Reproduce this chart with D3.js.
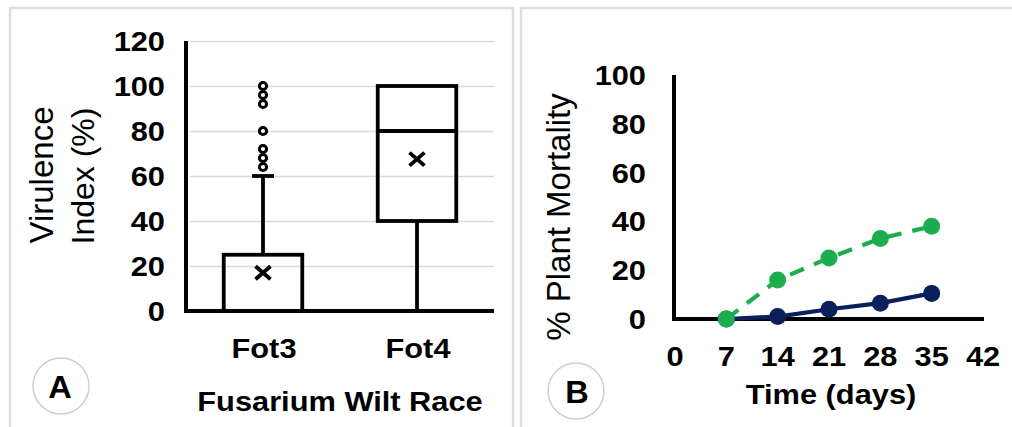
<!DOCTYPE html>
<html>
<head>
<meta charset="utf-8">
<script src="https://cdn.jsdelivr.net/npm/d3@7"></script>
<style>
  html, body { margin: 0; padding: 0; background: #fff; }
  svg { display: block; }
  text { font-family: "Liberation Sans", Arial, sans-serif; fill: #000; }
</style>
</head>
<body>
<svg id="chart" width="1012" height="427"></svg>
<script>
// Panel A: virulence index box plots per race
const raceCategories = ["Fot3", "Fot4"];
const boxQ1 = [0, 40];
const boxMedian = [0, 80];
const boxQ3 = [25, 100];
const whiskerLow = [0, 0];
const whiskerHigh = [60, 100];
const boxMean = [17, 67.5];
const fot3Outliers = [100, 96, 92, 80, 72, 68, 64];
const fot4Outliers = [];
const virulenceTicks = [0, 20, 40, 60, 80, 100, 120];

// Panel B: plant mortality over time
const days = [7, 14, 21, 28, 35];
const mortalityFot4 = [0, 16, 25, 33, 38];
const mortalityFot3 = [0, 1, 4, 6.5, 10.5];
const dayTicks = [0, 7, 14, 21, 28, 35, 42];
const mortalityTicks = [0, 20, 40, 60, 80, 100];

const svg = d3.select("#chart");
const STRETCH = 1.1;

function label(g, x, y, str, size, weight, anchor, stretch) {
  return g.append("text")
    .attr("transform", `translate(${x},${y}) scale(${stretch || 1},1)`)
    .attr("text-anchor", anchor || "middle")
    .style("font-size", size + "px")
    .style("font-weight", weight || "bold")
    .text(str);
}

// panel frames
const frame = svg.append("g").attr("fill", "none").attr("stroke", "#dedede").attr("stroke-width", 2.5);
frame.append("path").attr("d", "M10,430 V8 H513 V430");
frame.append("path").attr("d", "M521,430 V8 H1015");

// ---------- Panel A ----------
const gA = svg.append("g");
const xA = d3.scaleBand().domain(raceCategories).range([186, 494]);
const yA = d3.scaleLinear().domain([0, 120]).range([311, 41]);

// horizontal gridlines
gA.append("g")
  .call(d3.axisLeft(yA).tickValues(virulenceTicks).tickSize(-304).tickFormat(""))
  .attr("transform", "translate(190,0)")
  .call(g => g.select(".domain").remove())
  .call(g => g.selectAll("line").attr("stroke", "#d9d9d9").attr("stroke-width", 1.6));

// tick labels
virulenceTicks.forEach(v => {
  label(gA, 165, yA(v) + 10, String(v), 28, "bold", "end", STRETCH);
});

// axis lines
gA.append("line").attr("x1", 186).attr("x2", 186).attr("y1", yA(120)).attr("y2", yA(0) + 2)
  .attr("stroke", "#000").attr("stroke-width", 4);

const boxW = xA.bandwidth() * 0.51;
raceCategories.forEach((c, i) => {
  const cx = xA(c) + xA.bandwidth() / 2;
  const g = gA.append("g").attr("stroke", "#000").attr("fill", "none").attr("stroke-width", 3.8);
  // whiskers
  if (whiskerHigh[i] > boxQ3[i]) {
    g.append("line").attr("x1", cx).attr("x2", cx).attr("y1", yA(boxQ3[i])).attr("y2", yA(whiskerHigh[i]));
    g.append("line").attr("x1", cx - 11).attr("x2", cx + 11).attr("y1", yA(whiskerHigh[i])).attr("y2", yA(whiskerHigh[i]));
  }
  if (whiskerLow[i] < boxQ1[i]) {
    g.append("line").attr("x1", cx).attr("x2", cx).attr("y1", yA(boxQ1[i])).attr("y2", yA(whiskerLow[i]));
    g.append("line").attr("x1", cx - 10).attr("x2", cx + 10).attr("y1", yA(whiskerLow[i])).attr("y2", yA(whiskerLow[i]));
  }
  // box
  g.append("rect").attr("x", cx - boxW / 2).attr("width", boxW)
    .attr("y", yA(boxQ3[i])).attr("height", yA(boxQ1[i]) - yA(boxQ3[i]));
  g.append("line").attr("x1", cx - boxW / 2).attr("x2", cx + boxW / 2)
    .attr("y1", yA(boxMedian[i])).attr("y2", yA(boxMedian[i]));
  // mean marker
  const my = yA(boxMean[i]);
  g.append("path").attr("stroke-width", 3.8)
    .attr("d", `M${cx - 7.5},${my - 6.5}L${cx + 7.5},${my + 6.5}M${cx - 7.5},${my + 6.5}L${cx + 7.5},${my - 6.5}`);
  // outliers
  const outs = i === 0 ? fot3Outliers : fot4Outliers;
  g.selectAll("circle.o").data(outs).join("circle")
    .attr("cx", cx).attr("cy", d => yA(d)).attr("r", 3.6)
    .attr("fill", "#fff").attr("stroke-width", 3);
  label(gA, cx + 1, 358, c, 28, "bold", "middle", STRETCH);
});

gA.append("line").attr("x1", 184).attr("x2", 494).attr("y1", yA(0)).attr("y2", yA(0))
  .attr("stroke", "#000").attr("stroke-width", 4);

// axis titles
label(gA, 340, 411, "Fusarium Wilt Race", 28, "bold", "middle", STRETCH);
gA.append("text").attr("transform", "translate(53,175) rotate(-90)")
  .attr("text-anchor", "middle").style("font-size", "33px").text("Virulence");
gA.append("text").attr("transform", "translate(94,176) rotate(-90)")
  .attr("text-anchor", "middle").style("font-size", "32px").text("Index (%)");

// panel letter
gA.append("circle").attr("cx", 61).attr("cy", 386).attr("r", 28)
  .attr("fill", "#fff").attr("stroke", "#cfcfcf").attr("stroke-width", 1.5);
label(gA, 60, 398, "A", 31, "bold", "middle", 1.05);

// ---------- Panel B ----------
const gB = svg.append("g");
const xB = d3.scaleLinear().domain([0, 42]).range([675, 983]);
const yB = d3.scaleLinear().domain([0, 100]).range([319, 75]);

mortalityTicks.forEach(v => label(gB, 646, yB(v) + 10, String(v), 28, "bold", "end", STRETCH));
dayTicks.forEach(v => label(gB, xB(v), 366, String(v), 28, "bold", "middle", STRETCH));

gB.append("line").attr("x1", 674).attr("x2", 674).attr("y1", yB(100)).attr("y2", yB(0) + 2)
  .attr("stroke", "#000").attr("stroke-width", 4);
gB.append("line").attr("x1", 672).attr("x2", 984).attr("y1", yB(0)).attr("y2", yB(0))
  .attr("stroke", "#000").attr("stroke-width", 4);

const line = d3.line().x((d, i) => xB(days[i])).y(d => yB(d));

function drawSeries(values, color, dashed) {
  const g = gB.append("g");
  g.append("path").datum(values).attr("d", line)
    .attr("fill", "none").attr("stroke", color).attr("stroke-width", 4.2)
    .attr("stroke-dasharray", dashed ? "15,11" : null);
  g.selectAll("circle").data(values).join("circle")
    .attr("cx", (d, i) => xB(days[i])).attr("cy", d => yB(d)).attr("r", 8.5)
    .attr("fill", color);
}
drawSeries(mortalityFot3, "#0b1f5c", false);
drawSeries(mortalityFot4, "#1cae4e", true);

label(gB, 831, 404, "Time (days)", 28, "bold", "middle", STRETCH);
gB.append("text").attr("transform", "translate(570,217) rotate(-90)")
  .attr("text-anchor", "middle").style("font-size", "33px").text("% Plant Mortality");

gB.append("circle").attr("cx", 576).attr("cy", 391).attr("r", 28)
  .attr("fill", "#fff").attr("stroke", "#cfcfcf").attr("stroke-width", 1.5);
label(gB, 577, 403, "B", 31, "bold", "middle", 1.05);
</script>
</body>
</html>
